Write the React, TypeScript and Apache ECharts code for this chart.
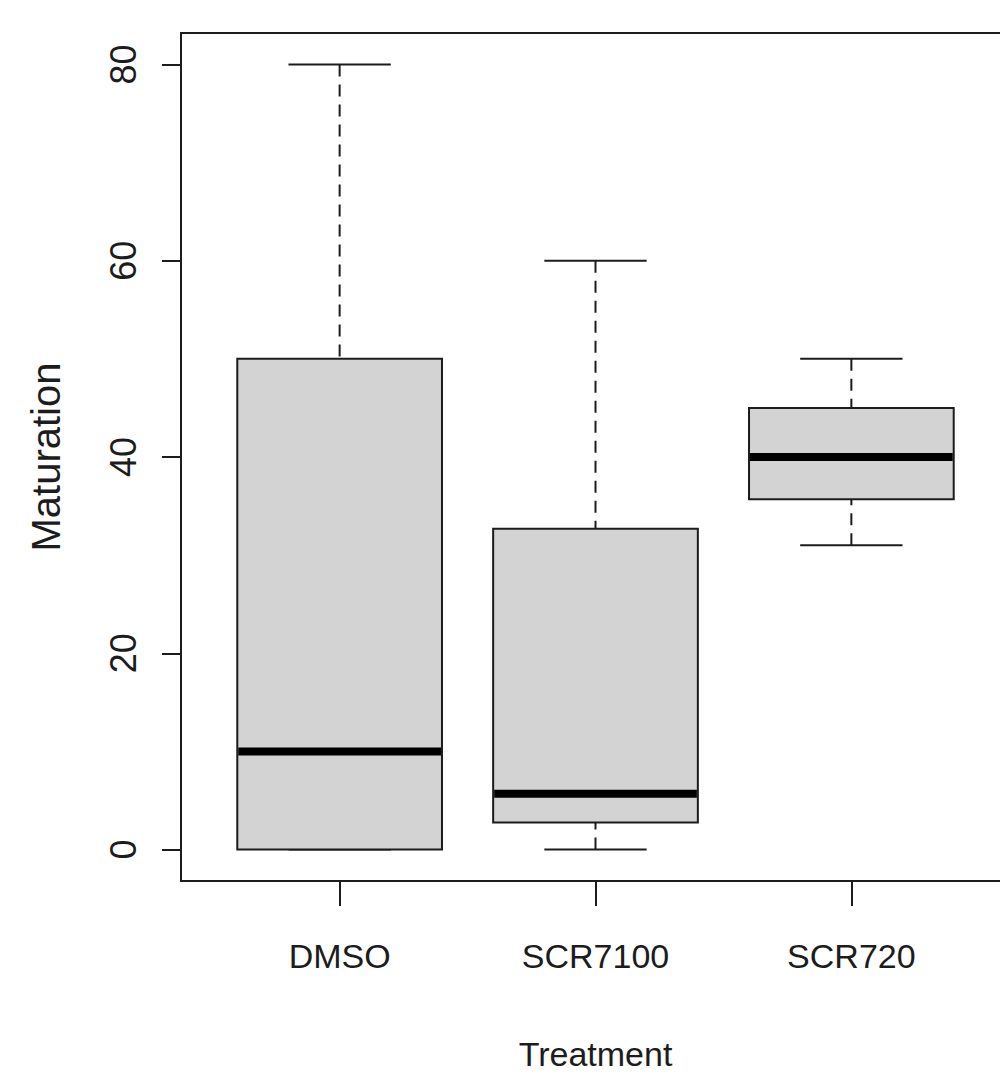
import React, { useEffect, useRef } from "react";
import * as echarts from "echarts";

const categories = ["DMSO", "SCR7100", "SCR720"];
const whiskerLow = [0, 0, 31];
const q1 = [0, 2.75, 35.7];
const medians = [10, 5.7, 40];
const q3 = [50, 32.7, 45];
const whiskerHigh = [80, 60, 50];
const yTicks = [0, 20, 40, 60, 80];
const xTicks = [1, 2, 3];

const INK = "#1c1c1c";
const SANS = "'Liberation Sans', Arial, sans-serif";

export default function App() {
  const ref = useRef<HTMLDivElement>(null);
  useEffect(() => {
    if (!ref.current) return;
    const chart = echarts.init(ref.current, undefined, { renderer: "svg" });
    const data = categories.map((c, i) => [
      i + 1,
      whiskerLow[i],
      q1[i],
      medians[i],
      q3[i],
      whiskerHigh[i],
    ]);
    const renderItem = (params: any, api: any) => {
      const x = api.value(0);
      const lo = api.value(1);
      const b1 = api.value(2);
      const md = api.value(3);
      const b3 = api.value(4);
      const hi = api.value(5);
      const c = (xv: number, yv: number) => api.coord([xv, yv]);
      const halfBox = 0.4;
      const halfCap = 0.2;
      const pLo = c(x, lo);
      const pQ1 = c(x, b1);
      const pMd = c(x, md);
      const pQ3 = c(x, b3);
      const pHi = c(x, hi);
      const left = c(x - halfBox, b3)[0];
      const right = c(x + halfBox, b3)[0];
      const capL = c(x - halfCap, hi)[0];
      const capR = c(x + halfCap, hi)[0];
      const dash = { stroke: INK, lineWidth: 2, lineDash: [12, 8], fill: null };
      const solid = { stroke: INK, lineWidth: 2, fill: null };
      return {
        type: "group",
        children: [
          { type: "line", shape: { x1: pHi[0], y1: pHi[1], x2: pQ3[0], y2: pQ3[1] }, style: dash },
          { type: "line", shape: { x1: pLo[0], y1: pLo[1], x2: pQ1[0], y2: pQ1[1] }, style: dash },
          { type: "line", shape: { x1: capL, y1: pHi[1], x2: capR, y2: pHi[1] }, style: solid },
          { type: "line", shape: { x1: capL, y1: pLo[1], x2: capR, y2: pLo[1] }, style: solid },
          {
            type: "rect",
            shape: { x: left, y: pQ3[1], width: right - left, height: pQ1[1] - pQ3[1] },
            style: { fill: "#d3d3d3", stroke: INK, lineWidth: 2 },
          },
          { type: "line", shape: { x1: left + 1, y1: pMd[1], x2: right - 1, y2: pMd[1] }, style: { stroke: "#000", lineWidth: 8 } },
        ],
      };
    };
    chart.setOption({
      animation: false,
      backgroundColor: "#ffffff",
      grid: {
        left: 181,
        top: 33,
        width: 829,
        bottom: 198,
        show: true,
        borderColor: INK,
        borderWidth: 2,
        backgroundColor: "transparent",
        outerBoundsMode: "none",
        containLabel: false,
      },
      xAxis: {
        type: "value",
        min: 0.38,
        max: 3.62,
        splitLine: { show: false },
        axisLine: { show: false, onZero: false },
        axisTick: { show: true, customValues: xTicks, length: 25, lineStyle: { color: INK, width: 2 } },
        axisLabel: {
          customValues: xTicks,
          formatter: (v: number) => categories[Math.round(v) - 1] || "",
          fontSize: 34,
          fontFamily: SANS,
          color: INK,
          margin: 58,
        },
        name: "Treatment",
        nameLocation: "middle",
        nameGap: 156,
        nameTextStyle: { fontSize: 34, fontFamily: SANS, color: INK },
      },
      yAxis: {
        type: "value",
        min: -3.2,
        max: 83.2,
        splitLine: { show: false },
        axisLine: { show: false, onZero: false },
        axisTick: { show: true, customValues: yTicks, length: 19, lineStyle: { color: INK, width: 2 } },
        axisLabel: {
          customValues: yTicks,
          rotate: 90,
          fontSize: 36,
          fontFamily: SANS,
          color: INK,
          margin: 40,
        },
        name: "Maturation",
        nameLocation: "middle",
        nameRotate: 90,
        nameGap: 115,
        nameTextStyle: { fontSize: 40, fontFamily: SANS, color: INK },
      },
      series: [
        {
          type: "custom",
          renderItem,
          data,
          encode: { x: 0, y: [1, 2, 3, 4, 5] },
          clip: false,
        },
      ],
    });
    return () => chart.dispose();
  }, []);
  return (
    <div
      ref={ref}
      style={{ position: "absolute", left: 0, top: 0, width: 1000, height: 1079 }}
    />
  );
}
